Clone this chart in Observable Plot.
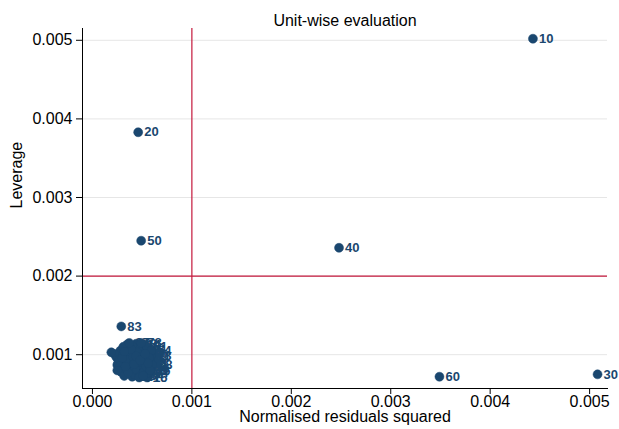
<!DOCTYPE html>
<html>
<head>
<meta charset="utf-8">
<script src="https://cdn.jsdelivr.net/npm/d3@7"></script>
<script src="https://cdn.jsdelivr.net/npm/@observablehq/plot@0.6"></script>
<style>
  body { margin: 0; background: #fff; }
  svg { font-family: "Liberation Sans", Arial, sans-serif; }
</style>
</head>
<body>
<div id="chart"></div>
<script>
const title = "Unit-wise evaluation";
const xLabel = "Normalised residuals squared";
const yLabel = "Leverage";
const xTicks = [0, 0.001, 0.002, 0.003, 0.004, 0.005];
const yTicks = [0.001, 0.002, 0.003, 0.004, 0.005];
const refX = 0.001;
const refY = 0.002;

const units = [10, 20, 30, 40, 50, 60, 83,
  1, 2, 3, 4, 5, 6, 7, 8, 9, 11, 12, 13, 14, 15, 16, 17, 18, 19,
  21, 22, 23, 24, 25, 26, 27, 28, 29, 31, 32, 33, 34, 35, 36, 37, 38, 39,
  41, 42, 43, 44, 45, 46, 47, 48, 49, 51, 52, 53, 54, 55, 56, 57, 58, 59,
  61, 62, 63, 64, 65, 66, 67, 68, 69, 70, 71, 72, 73, 74, 75, 76, 77, 78, 79,
  80, 81, 82, 84, 85, 86, 87, 88, 89, 90];
const resid = [0.00443, 0.00046, 0.00508, 0.00248, 0.00049, 0.00349, 0.00029,
  0.00050, 0.00039, 0.00034, 0.00056, 0.00053, 0.00027, 0.00042, 0.00031, 0.00058, 0.00045, 0.00037, 0.00024, 0.00048, 0.00055, 0.00032, 0.00043, 0.00059, 0.00028,
  0.00040, 0.00051, 0.00035, 0.00046, 0.00026, 0.00057, 0.00038, 0.00052, 0.00033, 0.00044, 0.00029, 0.00054, 0.00041, 0.00036, 0.00049, 0.00025, 0.00060, 0.00042,
  0.00030, 0.00047, 0.00034, 0.00056, 0.00039, 0.00051, 0.00022, 0.00044, 0.00032, 0.00055, 0.00037, 0.00048, 0.00059, 0.00027, 0.00041, 0.00053, 0.00035, 0.00046,
  0.00031, 0.00050, 0.00038, 0.00057, 0.00043, 0.00028, 0.00052, 0.00040, 0.00034, 0.00019, 0.00047, 0.00054, 0.00036, 0.00045, 0.00030, 0.00058, 0.00041, 0.00049, 0.00033,
  0.00042, 0.00056, 0.00039, 0.00051, 0.00025, 0.00044, 0.00037, 0.00048, 0.00032, 0.00053];
const leverage = [0.00502, 0.00383, 0.00075, 0.00236, 0.00245, 0.00072, 0.00136,
  0.00088, 0.00095, 0.00102, 0.00104, 0.00074, 0.00083, 0.00110, 0.00091, 0.00093, 0.00079, 0.00086, 0.00097, 0.00112, 0.00071, 0.00076, 0.00100, 0.00099, 0.00105,
  0.00072, 0.00096, 0.00113, 0.00087, 0.00090, 0.00082, 0.00080, 0.00107, 0.00097, 0.00093, 0.00078, 0.00090, 0.00084, 0.00108, 0.00102, 0.00087, 0.00087, 0.00075,
  0.00099, 0.00097, 0.00089, 0.00077, 0.00104, 0.00083, 0.00101, 0.00114, 0.00073, 0.00110, 0.00092, 0.00076, 0.00105, 0.00094, 0.00089, 0.00099, 0.00081, 0.00106,
  0.00110, 0.00091, 0.00099, 0.00096, 0.00082, 0.00086, 0.00079, 0.00111, 0.00094, 0.00103, 0.00071, 0.00085, 0.00077, 0.00103, 0.00096, 0.00080, 0.00097, 0.00115, 0.00085,
  0.00088, 0.00089, 0.00107, 0.00073, 0.00080, 0.00098, 0.00115, 0.00093, 0.00104, 0.00101];

const data = units.map((u, i) => ({unit: u, r: resid[i], h: leverage[i]}));

const navy = "#1a476f";
const red = "#c4183c";

const chart = Plot.plot({
  width: 619,
  height: 429,
  marginLeft: 82,
  marginRight: 12,
  marginTop: 28,
  marginBottom: 41,
  style: {fontSize: "16px", fontFamily: "'Liberation Sans', Arial, sans-serif", color: "#000"},
  x: {domain: [-0.0001, 0.00518], label: null},
  y: {domain: [0.00057, 0.00515], label: null},
  marks: [
    Plot.gridY(yTicks, {stroke: "#e6e6e6", strokeOpacity: 1}),
    Plot.ruleX([refX], {stroke: red, strokeWidth: 1.2}),
    Plot.ruleY([refY], {stroke: red, strokeWidth: 1.2}),
    Plot.axisX({ticks: xTicks, tickFormat: d3.format(".3f"), tickSize: 6, fontSize: 16, tickPadding: 1}),
    Plot.axisY({ticks: yTicks, tickFormat: d3.format(".3f"), tickSize: 6, fontSize: 16, tickPadding: 4}),
    Plot.frame({anchor: "left", stroke: "#000"}),
    Plot.frame({anchor: "bottom", stroke: "#000"}),
    Plot.text(data, {x: "r", y: "h", text: d => String(d.unit), dx: 6, textAnchor: "start", fill: navy, fontWeight: "bold", fontSize: 13}),
    Plot.dot(data, {x: "r", y: "h", r: 4.5, fill: navy, stroke: navy, strokeWidth: 0.5}),
    Plot.text([title], {frameAnchor: "top", dy: -14, fontSize: 16, fill: "#000"}),
    Plot.text([xLabel], {frameAnchor: "bottom", dy: 33, fontSize: 16, fill: "#000"}),
    Plot.text([yLabel], {frameAnchor: "left", dx: -66, rotate: -90, fontSize: 16, fill: "#000"})
  ]
});
document.getElementById("chart").appendChild(chart);
</script>
</body>
</html>
